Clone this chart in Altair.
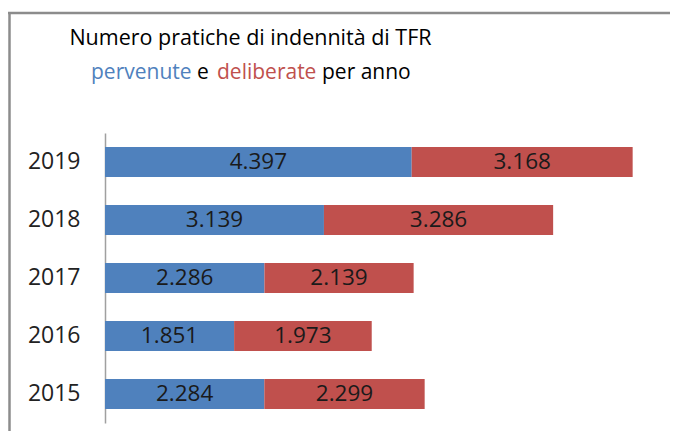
import altair as alt
import pandas as pd

years = ["2015", "2016", "2017", "2018", "2019"]
pervenute = [2284, 1851, 2286, 3139, 4397]
deliberate = [2299, 1973, 2139, 3286, 3168]
series = ["pervenute", "deliberate"]
colors = ["#4F81BD", "#C0504D"]

rows = []
for y, p, d in zip(years, pervenute, deliberate):
    start = 0
    for k, (s, v) in enumerate(zip(series, [p, d])):
        rows.append({"anno": y, "serie": s, "ord": k, "valore": v,
                     "x0": start, "x1": start + v, "mid": start + v / 2,
                     "label": f"{v:,}".replace(",", ".")})
        start += v
df = pd.DataFrame(rows)

FONT = "Open Sans"
year_order = list(reversed(years))

yenc = alt.Y("anno:N", sort=year_order, title=None,
             scale=alt.Scale(paddingInner=0.48, paddingOuter=0.24),
             axis=alt.Axis(ticks=False, labelFontSize=23, labelFont=FONT,
                           labelColor="#222222", labelPadding=25,
                           domainColor="#a0a0a0", domainWidth=1.5))
xscale = alt.Scale(domain=[0, 8000])

base = alt.Chart(df)
bars = base.mark_bar().encode(
    y=yenc,
    x=alt.X("x0:Q", scale=xscale, axis=None),
    x2="x1:Q",
    color=alt.Color("serie:N", scale=alt.Scale(domain=series, range=colors), legend=None),
)
labels = base.mark_text(fontSize=22.5, font=FONT, color="#1a1a1a", baseline="middle").encode(
    y=alt.Y("anno:N", sort=year_order),
    x=alt.X("mid:Q", scale=xscale),
    text="label:N",
)

one = pd.DataFrame({"a": [0]})
frame_top = alt.Chart(one).mark_rule(color="#8c8c8c", strokeWidth=2.5).encode(
    x=alt.value(-97), x2=alt.value(570), y=alt.value(-120))
frame_left = alt.Chart(one).mark_rule(color="#8c8c8c", strokeWidth=2.5).encode(
    x=alt.value(-95.5), y=alt.value(-121), y2=alt.value(310))

t1 = alt.Chart(one).mark_text(text="Numero pratiche di indennità di TFR", fontSize=21.5,
                              font=FONT, color="#000000", align="center",
                              baseline="alphabetic").encode(
    x=alt.value(145.5), y=alt.value(-88))

title2_parts = ["pervenute", "e", "deliberate", "per anno"]
title2_colors = ["#4F81BD", "#000000", "#C0504D", "#000000"]
title2_x = [-14, 92, 112, 217]
t2 = []
for txt, col, xp in zip(title2_parts, title2_colors, title2_x):
    t2.append(alt.Chart(one).mark_text(text=txt, fontSize=21, font=FONT, color=col,
                                       align="left", baseline="alphabetic").encode(
        x=alt.value(xp), y=alt.value(-54)))

chart = alt.layer(bars, labels, frame_top, frame_left, t1, *t2).properties(
    width=558, height=290,
    padding={"left": 97, "top": 125, "right": 7, "bottom": 8},
    autosize=alt.AutoSizeParams(type="none"),
).configure(background="white", view=alt.ViewConfig(stroke="transparent", strokeWidth=0))

chart.save("out.html", embed_options={"renderer": "svg", "actions": False})
